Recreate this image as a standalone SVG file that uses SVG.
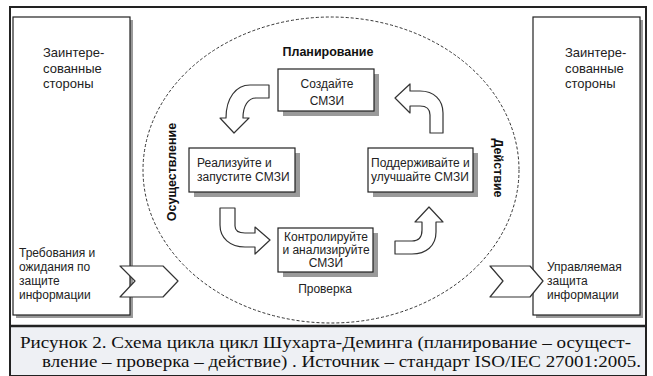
<svg xmlns="http://www.w3.org/2000/svg" width="653" height="376" viewBox="0 0 653 376">
<style>
.t{font-family:"Liberation Sans",Arial,sans-serif;font-size:12px;fill:#222}
.tl{font-family:"Liberation Sans",Arial,sans-serif;font-size:13px;fill:#222}
.b{font-family:"Liberation Sans",Arial,sans-serif;font-size:12.5px;font-weight:bold;fill:#111}
.cap{font-family:"Liberation Serif","Times New Roman",serif;font-size:16px;fill:#111}
.box{fill:#fff;stroke:#222;stroke-width:1.2}
.sh{fill:#9a9a9a}
.arr{fill:#fff;stroke:#333;stroke-width:1.2;stroke-linejoin:round}
</style>
<rect x="0" y="0" width="653" height="376" fill="#fff"/>
<rect x="10" y="326" width="636" height="50" fill="#eef0f4"/>
<rect x="10" y="7" width="636" height="369" fill="none" stroke="#222" stroke-width="2"/>
<line x1="10" y1="326" x2="646" y2="326" stroke="#222" stroke-width="2.5"/>

<g id="left-stakeholders">
<rect class="sh" x="16" y="20" width="117" height="298"/>
<rect class="box" x="13" y="17" width="117" height="298"/>
<text class="tl" x="43" y="57">Заинтере-</text>
<text class="tl" x="43" y="73">сованные</text>
<text class="tl" x="43" y="88">стороны</text>
<text class="t" x="19" y="257" font-size="12.5">Требования и</text>
<text class="t" x="19" y="271" font-size="12.5">ожидания по</text>
<text class="t" x="19" y="285" font-size="12.5">защите</text>
<text class="t" x="19" y="299" font-size="12.5">информации</text>
</g>

<g id="right-stakeholders">
<rect class="sh" x="536" y="20" width="107" height="298"/>
<rect class="box" x="533" y="17" width="107" height="298"/>
<text class="tl" x="565" y="57">Заинтере-</text>
<text class="tl" x="565" y="73">сованные</text>
<text class="tl" x="565" y="88">стороны</text>
<text class="t" x="547" y="271" font-size="12.5">Управляемая</text>
<text class="t" x="547" y="285" font-size="12.5">защита</text>
<text class="t" x="547" y="299" font-size="12.5">информации</text>
</g>

<g id="cycle">
<ellipse cx="331" cy="170" rx="188" ry="153" fill="none" stroke="#333" stroke-width="1" stroke-dasharray="3,2"/>
<text class="b" x="328" y="56" text-anchor="middle">Планирование</text>
<text class="t" x="325" y="293" text-anchor="middle">Проверка</text>
<text class="b" transform="translate(176,172) rotate(-90)" text-anchor="middle">Осуществление</text>
<text class="b" transform="translate(494,168) rotate(90)" text-anchor="middle">Действие</text>
</g>

<g id="plan">
<rect class="sh" x="283" y="74" width="96" height="42"/>
<rect class="box" x="278" y="69" width="96" height="42"/>
<text class="t" x="327" y="88" text-anchor="middle">Создайте</text>
<text class="t" x="327" y="105" text-anchor="middle">СМЗИ</text>
</g>

<g id="do">
<rect class="sh" x="194" y="153" width="106" height="44"/>
<rect class="box" x="189" y="148" width="106" height="44"/>
<text class="t" x="197" y="167">Реализуйте  и</text>
<text class="t" x="197" y="181">запустите СМЗИ</text>
</g>

<g id="act">
<rect class="sh" x="373" y="153" width="105" height="44"/>
<rect class="box" x="368" y="148" width="105" height="44"/>
<text class="t" x="371" y="167">Поддерживайте и</text>
<text class="t" x="371" y="181">улучшайте  СМЗИ</text>
</g>

<g id="check">
<rect class="sh" x="283" y="233" width="95" height="44"/>
<rect class="box" x="278" y="228" width="95" height="44"/>
<text class="t" x="326" y="240.5" text-anchor="middle" font-size="10.5">Контролируйте</text>
<text class="t" x="326" y="253.5" text-anchor="middle" font-size="10.5">и  анализируйте</text>
<text class="t" x="326" y="266.5" text-anchor="middle" font-size="10.5">СМЗИ</text>
</g>

<g id="connectors">
<path class="arr" d="M269,85 L250,85 C236,85 226,98 226,118 L220,118 L234,133 L249,118 L243,118 C243,106 248,98 256,98 L269,98 Z"/>
<path class="arr" d="M395,98 L410,84 L410,91 L420,91 C434,91 443,100 443,113 L443,133 L430,133 L430,115 C430,110 427,106 420,106 L410,106 L410,113 Z"/>
<path class="arr" d="M220,208 L235,208 L235,226 C235,231 239,233 245,233 L255,233 L255,227 L270,240 L255,254 L255,247 L245,247 C230,247 220,238 220,225 Z"/>
<path class="arr" d="M395,241 L412,241 C419,241 422,237 422,230 L422,222 L415,222 L429,207 L443,222 L436,222 L436,232 C436,246 426,254 412,254 L395,254 Z"/>
<path class="arr" d="M120,266 L163,266 L178,281 L163,297 L120,297 L135,281 Z"/>
<path class="arr" d="M490,266 L530,266 L543,281 L530,297 L490,297 L503,281 Z"/>
</g>

<g id="caption">
<text class="cap" x="20" y="348" textLength="611" lengthAdjust="spacingAndGlyphs">Рисунок 2. Схема цикла цикл Шухарта-Деминга (планирование – осущест-</text>
<text class="cap" x="42" y="367" textLength="599" lengthAdjust="spacingAndGlyphs">вление – проверка – действие) . Источник – стандарт ISO/IEC 27001:2005.</text>
</g>
</svg>
